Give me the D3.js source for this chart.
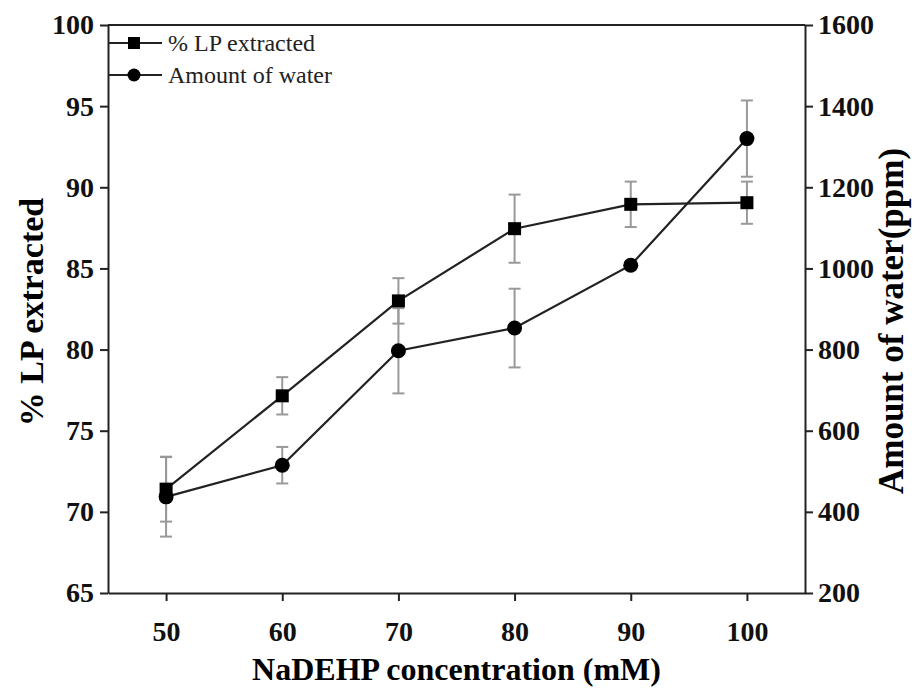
<!DOCTYPE html>
<html>
<head>
<meta charset="utf-8">
<script src="https://cdn.jsdelivr.net/npm/d3@7"></script>
<style>
  body { margin: 0; background: #fff; }
</style>
</head>
<body>
<script>
// data
var concentrations = [50, 60, 70, 80, 90, 100];
var lpExtracted = [71.4, 77.15, 83.0, 87.45, 88.95, 89.05];
var lpError = [2.0, 1.15, 1.4, 2.1, 1.4, 1.3];
var waterAmount = [437, 515, 797, 853, 1008, 1320];
var waterError = [98, 45, 105, 97, 10, 94];
var xTicks = [50, 60, 70, 80, 90, 100];
var leftTicks = [65, 70, 75, 80, 85, 90, 95, 100];
var rightTicks = [200, 400, 600, 800, 1000, 1200, 1400, 1600];

var width = 923, height = 690;
var margin = {left: 108, right: 118, top: 25, bottom: 97};
var serif = "Liberation Serif, DejaVu Serif, serif";

var svg = d3.select('body')
  .append('svg')
  .attr('width', width)
  .attr('height', height)
  .style('font-family', serif);

var x = d3.scaleLinear().domain([45, 105]).range([margin.left, width - margin.right]);
var yLeft = d3.scaleLinear().domain([65, 100]).range([height - margin.bottom, margin.top]);
var yRight = d3.scaleLinear().domain([200, 1600]).range([height - margin.bottom, margin.top]);

// axes
var bottomAxis = svg.append('g')
  .attr('transform', 'translate(0,' + (height - margin.bottom) + ')')
  .call(d3.axisBottom(x).tickValues(xTicks).tickSize(8).tickPadding(20).tickSizeOuter(0));

var leftAxis = svg.append('g')
  .attr('transform', 'translate(' + margin.left + ',0)')
  .call(d3.axisLeft(yLeft).tickValues(leftTicks).tickSize(8).tickPadding(6).tickSizeOuter(0));

var rightAxis = svg.append('g')
  .attr('transform', 'translate(' + (width - margin.right) + ',0)')
  .call(d3.axisRight(yRight).tickValues(rightTicks).tickFormat(d3.format('d')).tickSize(8).tickPadding(5).tickSizeOuter(0));

// top border
svg.append('line')
  .attr('x1', margin.left).attr('x2', width - margin.right)
  .attr('y1', margin.top).attr('y2', margin.top)
  .attr('stroke', '#222').attr('stroke-width', 2);

[bottomAxis, leftAxis, rightAxis].forEach(function(g) {
  g.attr('font-family', null);
  g.selectAll('path, line').attr('stroke', '#222').attr('stroke-width', 2);
  g.selectAll('text')
    .attr('fill', '#111')
    .style('font-family', serif)
    .style('font-size', '28px')
    .style('font-weight', 'bold');
});

// axis titles
svg.append('text')
  .attr('x', (margin.left + width - margin.right) / 2)
  .attr('y', 680)
  .attr('text-anchor', 'middle')
  .style('font-size', '32px')
  .style('font-weight', 'bold')
  .text('NaDEHP concentration (mM)');

svg.append('text')
  .attr('transform', 'translate(43,312) rotate(-90)')
  .attr('text-anchor', 'middle')
  .style('font-size', '34px')
  .style('font-weight', 'bold')
  .text('% LP extracted');

svg.append('text')
  .attr('transform', 'translate(903,321) rotate(-90)')
  .attr('text-anchor', 'middle')
  .style('font-size', '35px')
  .style('font-weight', 'bold')
  .text('Amount of water(ppm)');

var lp = concentrations.map(function(c, i) { return {x: c, y: lpExtracted[i], e: lpError[i]}; });
var water = concentrations.map(function(c, i) { return {x: c, y: waterAmount[i], e: waterError[i]}; });

function errorBars(data, yScale) {
  var g = svg.append('g').attr('stroke', '#999').attr('stroke-width', 2);
  data.forEach(function(d) {
    var cx = x(d.x);
    g.append('line').attr('x1', cx).attr('x2', cx)
      .attr('y1', yScale(d.y - d.e)).attr('y2', yScale(d.y + d.e));
    [d.y - d.e, d.y + d.e].forEach(function(v) {
      g.append('line').attr('x1', cx - 6).attr('x2', cx + 6)
        .attr('y1', yScale(v)).attr('y2', yScale(v));
    });
  });
}

errorBars(lp, yLeft);
errorBars(water, yRight);

var lineLeft = d3.line().x(function(d) { return x(d.x); }).y(function(d) { return yLeft(d.y); });
var lineRight = d3.line().x(function(d) { return x(d.x); }).y(function(d) { return yRight(d.y); });

svg.append('path').datum(lp).attr('d', lineLeft)
  .attr('fill', 'none').attr('stroke', '#222').attr('stroke-width', 2.2);
svg.append('path').datum(water).attr('d', lineRight)
  .attr('fill', 'none').attr('stroke', '#222').attr('stroke-width', 2.2);

svg.selectAll('rect.lp').data(lp).enter()
  .append('rect')
  .attr('class', 'lp')
  .attr('x', function(d) { return x(d.x) - 6.5; })
  .attr('y', function(d) { return yLeft(d.y) - 6.5; })
  .attr('width', 13).attr('height', 13)
  .attr('fill', '#000');

svg.selectAll('circle.water').data(water).enter()
  .append('circle')
  .attr('class', 'water')
  .attr('cx', function(d) { return x(d.x); })
  .attr('cy', function(d) { return yRight(d.y); })
  .attr('r', 7.5)
  .attr('fill', '#000');

// legend
var legend = svg.append('g');
[{label: '% LP extracted', shape: 'square', y: 43}, {label: 'Amount of water', shape: 'circle', y: 75}].forEach(function(item) {
  legend.append('line')
    .attr('x1', margin.left).attr('x2', 162)
    .attr('y1', item.y).attr('y2', item.y)
    .attr('stroke', '#222').attr('stroke-width', 2);
  if (item.shape == 'square') {
    legend.append('rect').attr('x', 128).attr('y', item.y - 6).attr('width', 12).attr('height', 12).attr('fill', '#000');
  } else {
    legend.append('circle').attr('cx', 134).attr('cy', item.y).attr('r', 6.5).attr('fill', '#000');
  }
  legend.append('text')
    .attr('x', 168).attr('y', item.y + 8)
    .style('font-size', '24px')
    .attr('fill', '#222')
    .text(item.label);
});
</script>
</body>
</html>
